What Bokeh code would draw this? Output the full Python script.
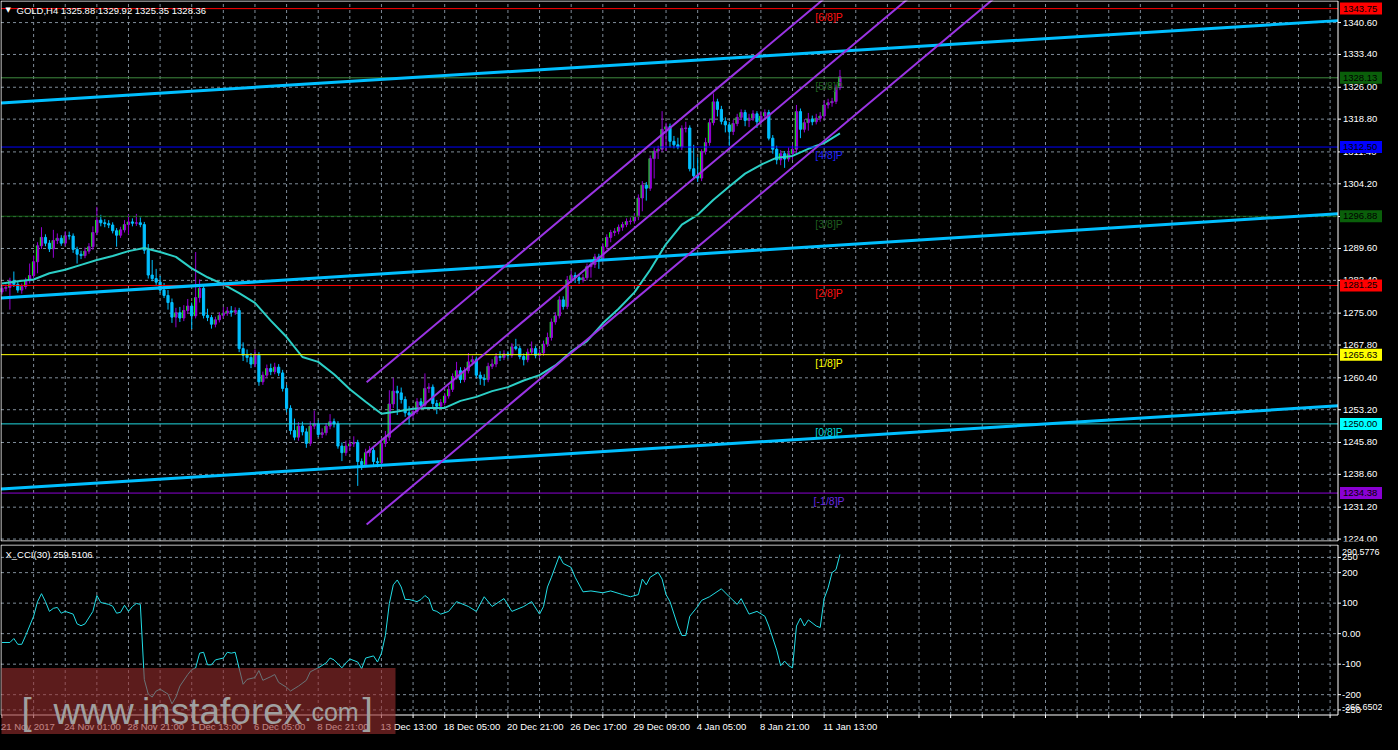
from bokeh.plotting import figure
from bokeh.layouts import column
from bokeh.models import Range1d, ColumnDataSource, GlobalInlineStyleSheet
from bokeh.core.properties import value
from bokeh.embed import file_html
from bokeh.resources import INLINE

# ---------------- data ----------------
o = [1279.8,1280.6,1280.8,1282.3,1281.5,1280.2,1281.0,1282.3,1283.5,1286.6,1290.2,1292.1,1290.8,1289.5,1291.4,1291.9,1290.8,1292.5,1292.4,1289.4,
     1288.3,1288.0,1289.0,1290.0,1293.2,1296.0,1295.4,1295.2,1294.9,1293.6,1292.6,1293.8,1295.0,1295.6,1295.3,1295.4,1295.0,1289.2,1283.6,1282.8,
     1282.0,1280.2,1279.0,1277.4,1274.1,1275.1,1273.9,1275.6,1276.6,1274.4,1278.5,1280.6,1274.5,1274.0,1272.5,1273.5,1274.5,1275.0,1275.5,1275.2,
     1275.6,1267.0,1265.5,1265.0,1263.5,1265.5,1259.5,1261.0,1262.5,1261.8,1262.8,1261.5,1258.0,1253.5,1248.5,1247.0,1249.5,1248.2,1245.6,1249.5,
     1250.0,1247.6,1248.0,1249.5,1250.5,1250.0,1245.0,1243.5,1245.0,1245.5,1245.8,1241.5,1240.8,1243.5,1244.0,1241.5,1241.2,1245.6,1247.0,1254.5,
     1257.4,1257.0,1255.5,1252.5,1252.0,1252.8,1255.0,1254.2,1258.0,1258.3,1254.6,1254.0,1254.8,1256.3,1257.8,1260.7,1262.0,1260.0,1262.0,1264.0,
     1264.5,1261.0,1260.3,1260.0,1263.0,1263.5,1265.2,1265.0,1265.8,1265.5,1267.4,1267.0,1265.2,1264.5,1266.2,1267.0,1265.5,1266.0,1268.0,1269.5,
     1273.0,1274.4,1278.0,1276.5,1282.5,1283.5,1283.0,1282.5,1283.0,1285.5,1286.0,1287.7,1287.3,1290.0,1292.1,1293.2,1293.5,1294.4,1295.0,1295.7,
     1295.8,1296.8,1301.0,1303.9,1303.2,1309.9,1311.6,1312.0,1316.5,1317.1,1313.8,1313.0,1312.5,1316.7,1316.8,1307.6,1306.0,1305.5,1311.5,1313.5,
     1318.0,1322.7,1321.0,1318.3,1317.5,1316.0,1317.8,1319.2,1320.3,1318.5,1319.0,1320.0,1318.2,1319.5,1320.3,1314.5,1312.0,1309.6,1311.0,1309.8,
     1311.0,1312.0,1320.5,1316.5,1318.0,1318.8,1318.2,1319.0,1319.5,1322.0,1322.5,1322.8,1325.88]
h = [1281.2,1281.5,1283.0,1284.4,1282.1,1281.7,1283.0,1286.2,1288.0,1291.0,1294.4,1292.8,1291.5,1293.8,1293.0,1292.6,1293.5,1293.4,1293.0,1290.0,
     1289.1,1289.8,1290.8,1294.6,1299.0,1297.2,1296.2,1296.0,1295.5,1294.2,1294.5,1296.0,1297.3,1296.4,1297.4,1296.6,1295.6,1290.6,1287.0,1285.0,
     1283.4,1281.8,1280.2,1278.3,1276.2,1276.4,1276.8,1278.2,1277.4,1288.8,1282.6,1281.2,1276.0,1274.6,1274.2,1275.2,1276.4,1276.4,1276.6,1276.3,
     1276.2,1268.4,1266.8,1266.0,1266.8,1266.2,1261.8,1263.4,1263.6,1263.8,1263.5,1262.2,1258.8,1254.2,1251.2,1250.4,1250.5,1249.0,1250.6,1253.0,
     1250.8,1249.0,1250.2,1252.2,1251.2,1250.6,1245.8,1246.2,1246.4,1247.2,1246.4,1242.2,1244.4,1245.0,1244.6,1242.4,1246.8,1248.4,1257.6,1260.4,
     1258.6,1258.2,1256.2,1254.0,1253.8,1255.8,1255.8,1261.4,1259.2,1258.9,1255.4,1255.6,1257.0,1258.6,1261.4,1264.0,1262.8,1262.8,1266.0,1265.4,
     1265.2,1261.8,1261.2,1263.8,1264.6,1266.0,1266.4,1266.6,1266.4,1268.2,1269.2,1267.6,1265.9,1267.0,1268.6,1267.6,1266.8,1268.8,1270.6,1273.8,
     1275.2,1278.8,1278.8,1283.4,1284.6,1284.2,1283.8,1283.8,1286.2,1286.8,1288.4,1288.4,1290.8,1292.8,1293.8,1294.2,1295.0,1295.6,1296.4,1296.6,
     1297.6,1301.8,1304.8,1304.6,1310.6,1312.4,1312.8,1320.6,1318.0,1317.8,1315.0,1314.6,1317.4,1318.2,1317.4,1313.0,1310.2,1312.0,1314.6,1318.8,
     1324.6,1323.4,1321.8,1319.2,1318.2,1318.6,1320.0,1321.0,1320.9,1320.0,1320.8,1320.6,1320.6,1321.0,1320.9,1315.2,1312.8,1311.8,1311.6,1312.4,
     1313.0,1322.0,1321.2,1318.8,1320.2,1319.6,1320.0,1320.4,1323.0,1323.4,1323.6,1326.6,1329.92]
l = [1279.2,1279.9,1275.8,1280.9,1279.6,1279.4,1280.4,1281.7,1282.9,1284.0,1289.5,1290.1,1288.8,1287.5,1290.6,1290.2,1290.2,1291.6,1288.6,1286.2,
     1287.2,1287.4,1288.4,1289.3,1292.6,1294.6,1294.4,1294.2,1293.0,1290.0,1292.0,1293.2,1292.8,1294.6,1294.7,1294.4,1288.4,1282.8,1282.2,1281.4,
     1279.6,1278.4,1275.8,1272.8,1271.8,1273.0,1273.2,1274.8,1271.4,1273.8,1277.4,1273.8,1273.2,1271.5,1271.8,1272.9,1273.9,1274.4,1274.2,1274.6,
     1266.2,1264.2,1263.9,1262.6,1262.8,1258.6,1258.8,1260.4,1261.0,1261.2,1260.8,1257.3,1252.6,1247.6,1246.3,1246.2,1247.4,1244.6,1245.0,1248.8,
     1247.0,1246.8,1247.4,1248.8,1249.2,1244.4,1241.6,1242.8,1244.2,1244.8,1236.0,1239.6,1240.2,1242.6,1240.6,1240.2,1240.5,1244.8,1246.2,1253.6,
     1252.0,1254.6,1251.6,1249.8,1251.2,1252.2,1253.6,1253.6,1257.0,1253.8,1252.2,1253.4,1254.2,1255.7,1257.2,1260.0,1259.2,1259.4,1261.4,1263.2,
     1260.4,1258.8,1258.6,1259.4,1262.4,1262.8,1264.2,1264.4,1264.8,1264.9,1266.6,1264.6,1263.2,1263.9,1265.6,1264.8,1264.9,1265.4,1267.4,1268.8,
     1272.4,1273.8,1275.8,1275.9,1281.8,1281.8,1281.6,1281.9,1282.4,1283.0,1285.2,1285.0,1286.6,1289.4,1291.0,1292.4,1292.8,1293.6,1294.4,1295.0,
     1295.2,1296.0,1298.0,1300.4,1302.6,1305.4,1309.8,1311.4,1311.6,1312.4,1312.2,1312.0,1311.8,1315.8,1307.0,1305.2,1304.6,1304.8,1310.8,1312.8,
     1317.4,1319.4,1317.6,1315.8,1312.8,1315.2,1317.2,1318.6,1317.2,1317.0,1318.4,1316.8,1317.6,1318.9,1314.0,1311.0,1308.6,1308.4,1307.8,1309.2,
     1309.6,1311.2,1314.5,1315.8,1316.2,1317.4,1317.6,1318.2,1318.8,1321.2,1321.6,1322.2,1325.35]
c = [1280.6,1280.8,1282.3,1281.5,1280.2,1281.0,1282.3,1283.5,1286.6,1290.2,1292.1,1290.8,1289.5,1291.4,1291.9,1290.8,1292.5,1292.4,1289.4,1288.3,
     1288.0,1289.0,1290.0,1293.2,1296.0,1295.4,1295.2,1294.9,1293.6,1292.6,1293.8,1295.0,1295.6,1295.3,1295.4,1295.0,1289.2,1283.6,1282.8,1282.0,
     1280.2,1279.0,1277.4,1274.1,1275.1,1273.9,1275.6,1276.6,1274.4,1278.5,1280.6,1274.5,1274.0,1272.5,1273.5,1274.5,1275.0,1275.5,1275.2,1275.6,
     1267.0,1265.5,1265.0,1263.5,1265.5,1259.5,1261.0,1262.5,1261.8,1262.8,1261.5,1258.0,1253.5,1248.5,1247.0,1249.5,1248.2,1245.6,1249.5,1250.0,
     1247.6,1248.0,1249.5,1250.5,1250.0,1245.0,1243.5,1245.0,1245.5,1245.8,1241.5,1240.8,1243.5,1244.0,1241.5,1241.2,1245.6,1247.0,1254.5,1257.4,
     1257.0,1255.5,1252.5,1252.0,1252.8,1255.0,1254.2,1258.0,1258.3,1254.6,1254.0,1254.8,1256.3,1257.8,1260.7,1262.0,1260.0,1262.0,1264.0,1264.5,
     1261.0,1260.3,1260.0,1263.0,1263.5,1265.2,1265.0,1265.8,1265.5,1267.4,1267.0,1265.2,1264.5,1266.2,1267.0,1265.5,1266.0,1268.0,1269.5,1273.0,
     1274.4,1278.0,1276.5,1282.5,1283.5,1283.0,1282.5,1283.0,1285.5,1286.0,1287.7,1287.3,1290.0,1292.1,1293.2,1293.5,1294.4,1295.0,1295.7,1295.8,
     1296.8,1301.0,1303.9,1303.2,1309.9,1311.6,1312.0,1316.5,1317.1,1313.8,1313.0,1312.5,1316.7,1316.8,1307.6,1306.0,1305.5,1311.5,1313.5,1318.0,
     1322.7,1321.0,1318.3,1317.5,1316.0,1317.8,1319.2,1320.3,1318.5,1319.0,1320.0,1318.2,1319.5,1320.3,1314.5,1312.0,1309.6,1311.0,1309.8,1311.0,
     1312.0,1320.5,1316.5,1318.0,1318.8,1318.2,1319.0,1319.5,1322.0,1322.5,1322.8,1325.9,1328.36]

ma_idx = list(range(0, 213, 4))
ma_val = [1281.7,1282.2,1282.6,1284.0,1284.8,1285.9,1287.0,1287.9,1289.0,1289.7,1288.8,1287.7,1285.1,1283.1,1281.5,1279.5,1277.3,1273.3,
          1269.6,1265.1,1264.0,1261.2,1257.8,1255.0,1252.3,1252.8,1253.4,1253.6,1253.6,1255.2,1256.1,1257.4,1258.3,1259.8,1261.0,1263.2,
          1266.3,1268.7,1272.7,1276.0,1279.7,1284.8,1290.6,1295.0,1297.2,1300.6,1303.6,1306.5,1308.5,1310.1,1310.5,1312.1,1313.4,1315.6]

cci_idx = [0,2,3,4,5,6,8,9,10,11,12,13,14,15,16,18,19,20,21,23,24,25,27,28,29,30,31,32,33,34,35,36,37,38,39,40,42,43,44,45,47,48,49,50,51,52,53,54,
           56,57,58,59,61,62,64,65,66,68,69,70,72,73,75,77,78,80,82,83,84,86,87,88,90,91,92,94,95,96,97,98,99,100,101,102,103,105,106,107,108,109,
           110,111,113,115,118,120,122,124,127,129,132,134,136,137,138,139,141,142,144,145,147,149,152,154,157,159,161,162,163,164,166,167,168,169,
           171,172,173,174,176,177,179,182,184,186,187,189,191,193,194,196,197,198,199,200,201,202,203,204,206,207,208,209,210,211,212]
cci_val = [-29,-29,-16,-35,-35,-6,57,105,131,105,73,83,86,67,73,64,32,26,32,73,125,102,96,90,67,70,93,73,89,99,96,-150,-198,-208,-188,-182,-198,-230,
           -208,-172,-134,-118,-112,-64,-61,-102,-102,-86,-80,-61,-64,-61,-166,-150,-144,-121,-153,-141,-134,-160,-176,-188,-172,-153,-125,-112,-96,
           -80,-86,-112,-96,-83,-93,-115,-80,-73,-93,-64,-6,99,160,176,153,112,112,105,112,125,115,77,73,64,73,105,89,73,121,89,115,73,89,105,64,89,
           153,185,255,230,217,185,137,140,134,140,128,121,128,179,160,185,201,179,128,105,25,-6,-6,57,89,109,121,147,121,96,115,64,73,57,25,-54,
           -105,-90,-105,-112,25,51,25,45,25,20,115,150,200,210,259.5]

price_ticks = [1224.00,1231.20,1238.60,1245.80,1253.20,1260.40,1267.80,1275.00,1282.40,1289.60,1296.80,1304.20,1311.40,1318.80,1326.00,1333.40,1340.60]
cci_grid = [-250,-200,-100,0,100,200,250]
cci_grid_text = ["-250","-200","-100","0.00","100","200","250"]
cci_max, cci_min = 290.5776, -266.6502

time_label_idx = [0,16,32,48,64,80,96,112,128,144,160,176,192,208]
time_labels = ["21 Nov 2017","24 Nov 01:00","28 Nov 21:00","1 Dec 13:00","6 Dec 05:00","8 Dec 21:00","13 Dec 13:00",
               "18 Dec 05:00","20 Dec 21:00","26 Dec 17:00","29 Dec 09:00","4 Jan 05:00","8 Jan 21:00","11 Jan 13:00"]

mm_levels = [1343.75,1328.13,1312.50,1296.88,1281.25,1265.63,1250.00,1234.38]
mm_names = ["[6/8]P","[5/8]P","[4/8]P","[3/8]P","[2/8]P","[1/8]P","[0/8]P","[-1/8]P"]
mm_line_colors = ["#FF0000","#3F8A3F","#0000FF","#0F5F0F","#FF0000","#FFFF00","#20D8E0","#8A00D4"]
mm_text_colors = ["#FF1010","#1F5F1F","#2020FF","#1F5F1F","#FF1010","#FFFF00","#00D8D8","#6A28E0"]
mm_box_colors = ["#FF0000","#0A5F0A","#0000FF","#0A5F0A","#FF0000","#FFFF00","#00FFFF","#8A00D4"]

trend_x = [-0.25, 338]
trend_top = [1322.46, 1341.04]
trend_mid = [1278.43, 1297.46]
trend_bot = [1235.29, 1254.09]

chan_x = [92.25, 260]
chan_up = [1259.4, 1384.9]
chan_mid = [1243.5, 1369.0]
chan_low = [1227.3, 1352.8]

# ---------------- layout constants ----------------
W = 1382            # frame width (px) of both panels
PW = 1337           # width of the plotting area inside it; the rest holds the price scale
H1 = 541            # main panel height
CH = 170            # CCI plotting area height
H2 = 190            # CCI panel height incl. time scale
X0, X1 = -0.25, 338.0
PB, PT = 1223.56, 1345.47
FONT = "Liberation Sans"
FS = "9.5px"
GRID = "#7F8C99"
WHITE = "#FFFFFF"

S = PW / (X1 - X0)
XL = X0 - 0.5 / S
XRt = XL + W / S
def xpx(px):
    return XL + px / S

ys = (H1 - 1) / (PT - PB)
YT = PT + 0.5 / ys
YB = YT - H1 / ys
def ypx(py):
    return YT - py / ys

cs = CH / (cci_max - cci_min)
CT = cci_max + 0.5 / cs
CB = CT - H2 / cs
def cpx(py):
    return CT - py / cs

RX = 0.5 + PW   # pixel x of right border


def base_fig(height, yr, bottom):
    f = figure(frame_width=W, frame_height=height, x_range=Range1d(XL, XRt), y_range=Range1d(*yr),
               x_axis_location=None, y_axis_location=None, output_backend="svg", toolbar_location=None,
               min_border_left=0, min_border_right=0, min_border_top=0, min_border_bottom=bottom,
               background_fill_color="black", border_fill_color="black", outline_line_color=None)
    f.grid.visible = False
    return f

# ---------------- main price panel ----------------
p = base_fig(H1, (YB, YT), 3)

vgrid = list(range(8, 337, 8))
p.segment(x0=vgrid, y0=[PB] * len(vgrid), x1=vgrid, y1=[PT] * len(vgrid), line_color=GRID, line_dash="3 3", line_width=1)
p.segment(x0=[X0] * len(price_ticks), y0=price_ticks, x1=[X1] * len(price_ticks), y1=price_ticks,
          line_color=GRID, line_dash="3 3", line_width=1)

idx = list(range(len(c)))
up = [i for i in idx if c[i] >= o[i]]
dn = [i for i in idx if c[i] < o[i]]
src_up = ColumnDataSource(dict(x=up, hi=[h[i] for i in up], lo=[l[i] for i in up],
                               top=[c[i] for i in up], bot=[o[i] for i in up], xe=[i - 0.3 for i in up]))
src_dn = ColumnDataSource(dict(x=dn, hi=[h[i] for i in dn], lo=[l[i] for i in dn],
                               top=[o[i] for i in dn], bot=[c[i] for i in dn]))
BULL = "#9400D3"
BEAR = "#00BFFF"
p.segment(x0="x", y0="lo", x1="x", y1="hi", source=src_dn, line_color=BEAR, line_width=1)
p.vbar(x="x", width=0.55, top="top", bottom="bot", source=src_dn, fill_color=BEAR, line_color=BEAR, line_width=1)
p.segment(x0="x", y0="lo", x1="x", y1="hi", source=src_up, line_color=BULL, line_width=1)
p.vbar(x="x", width=0.55, top="top", bottom="bot", source=src_up, fill_color=BULL, line_color=BULL, line_width=1)
p.segment(x0="xe", y0="bot", x1="xe", y1="top", source=src_up, line_color="#00FF00", line_width=1)

p.line(ma_idx, ma_val, line_color="#2CCFC6", line_width=2)

n = len(mm_levels)
p.segment(x0=[X0] * n, y0=mm_levels, x1=[X1] * n, y1=mm_levels, line_color=mm_line_colors, line_width=1)

for ys_ in (trend_top, trend_mid, trend_bot):
    p.line(trend_x, ys_, line_color="#00BFFF", line_width=3)
for ys_ in (chan_up, chan_mid, chan_low):
    p.line(chan_x, ys_, line_color="#9A34E4", line_width=2)

p.text(x=[209.25] * n, y=[v - 0.45 for v in mm_levels], text=mm_names, text_color=mm_text_colors,
       text_font=value(FONT), text_font_size="10.5px", text_align="center", text_baseline="top")

# frame borders
p.segment(x0=[X0, X0, X1, X0], y0=[PB, PT, PB, PB], x1=[X0, X1, X1, X1], y1=[PT, PT, PT, PB],
          line_color=WHITE, line_width=1)

# price scale
p.segment(x0=[X1] * len(price_ticks), y0=price_ticks, x1=[xpx(RX + 3)] * len(price_ticks), y1=price_ticks,
          line_color=WHITE, line_width=1)
p.text(x=[xpx(RX + 5)] * len(price_ticks), y=price_ticks, text=[f"{v:.2f}" for v in price_ticks],
       text_color=WHITE, text_font=value(FONT), text_font_size=FS, text_baseline="middle", text_align="left")
p.rect(x=[xpx(RX + 2 + 21)] * n, y=mm_levels, width=42, height=12, width_units="screen", height_units="screen",
       fill_color=mm_box_colors, line_color=None)
p.text(x=[xpx(RX + 5)] * n, y=mm_levels, text=[f"{v:.2f}" for v in mm_levels], text_color="#000000",
       text_font=value(FONT), text_font_size=FS, text_baseline="middle", text_align="left")

p.text(x=[xpx(5)], y=[ypx(5)], text=["\u25bc"], text_color=WHITE, text_font=value("DejaVu Sans"),
       text_font_size="7px", text_baseline="top", text_align="left")
p.text(x=[xpx(16)], y=[ypx(4)], text=["GOLD,H4  1325.88 1329.92 1325.35 1328.36"], text_color=WHITE,
       text_font=value(FONT), text_font_size=FS, text_baseline="top", text_align="left")

# ---------------- CCI panel ----------------
q = base_fig(H2, (CB, CT), 0)

q.segment(x0=vgrid, y0=[cci_min] * len(vgrid), x1=vgrid, y1=[cci_max] * len(vgrid), line_color=GRID, line_dash="3 3", line_width=1)
q.segment(x0=[X0] * len(cci_grid), y0=cci_grid, x1=[X1] * len(cci_grid), y1=cci_grid, line_color=GRID, line_dash="3 3", line_width=1)

q.line(cci_idx, cci_val, line_color="#22DDE6", line_width=1)

q.segment(x0=[X0, X0, X1, X0], y0=[cci_min, cci_max, cci_min, cci_min], x1=[X0, X1, X1, X1],
          y1=[cci_max, cci_max, cci_max, cci_min], line_color=WHITE, line_width=1)

# value scale of the CCI
q.segment(x0=[X1] * len(cci_grid), y0=cci_grid, x1=[xpx(RX + 3)] * len(cci_grid), y1=cci_grid, line_color=WHITE, line_width=1)
q.text(x=[xpx(RX + 4)] * len(cci_grid), y=cci_grid, text=cci_grid_text, text_color=WHITE, text_font=value(FONT),
       text_font_size=FS, text_baseline="middle", text_align="left")
q.text(x=[xpx(RX + 4)] * 2, y=[cpx(7), cpx(162)], text=[f"{cci_max:.4f}", f"{cci_min:.4f}"], text_color=WHITE,
       text_font=value(FONT), text_font_size="9px", text_baseline="middle", text_align="left")

# time scale
tt = list(range(0, 337, 8))
q.segment(x0=tt, y0=[cci_min] * len(tt), x1=tt, y1=[cpx(CH + 3.5)] * len(tt), line_color=WHITE, line_width=1)
q.text(x=[t - 0.25 for t in time_label_idx], y=[cpx(CH + 6)] * len(time_label_idx), text=time_labels,
       text_color=WHITE, text_font=value(FONT), text_font_size=FS, text_baseline="top", text_align="left")

q.text(x=[xpx(5)], y=[cpx(4)], text=["X_CCI(30) 259.5106"], text_color=WHITE, text_font=value(FONT),
       text_font_size=FS, text_baseline="top", text_align="left")

# watermark
q.quad(left=[xpx(1)], right=[xpx(395)], top=[cpx(CH + 0.5 - 47)], bottom=[cpx(H2)], fill_color="#992F2F",
       fill_alpha=0.6, line_color=None)
WM = "#A0A0A0"
for tx, xx, fs in (("[", 21, "37px"), ("www.instaforex", 53, "37px"), (".com", 304, "25px"), ("]", 362, "37px")):
    q.text(x=[xpx(xx)], y=[cpx(CH - 3)], text=[tx], text_color=WM, text_font=value(FONT), text_font_size=fs,
           text_baseline="alphabetic", text_align="left")

layout = column(p, q, stylesheets=[GlobalInlineStyleSheet(css="html, body { background-color: #000000; }")])

open("out.html", "w").write(file_html(layout, INLINE))
